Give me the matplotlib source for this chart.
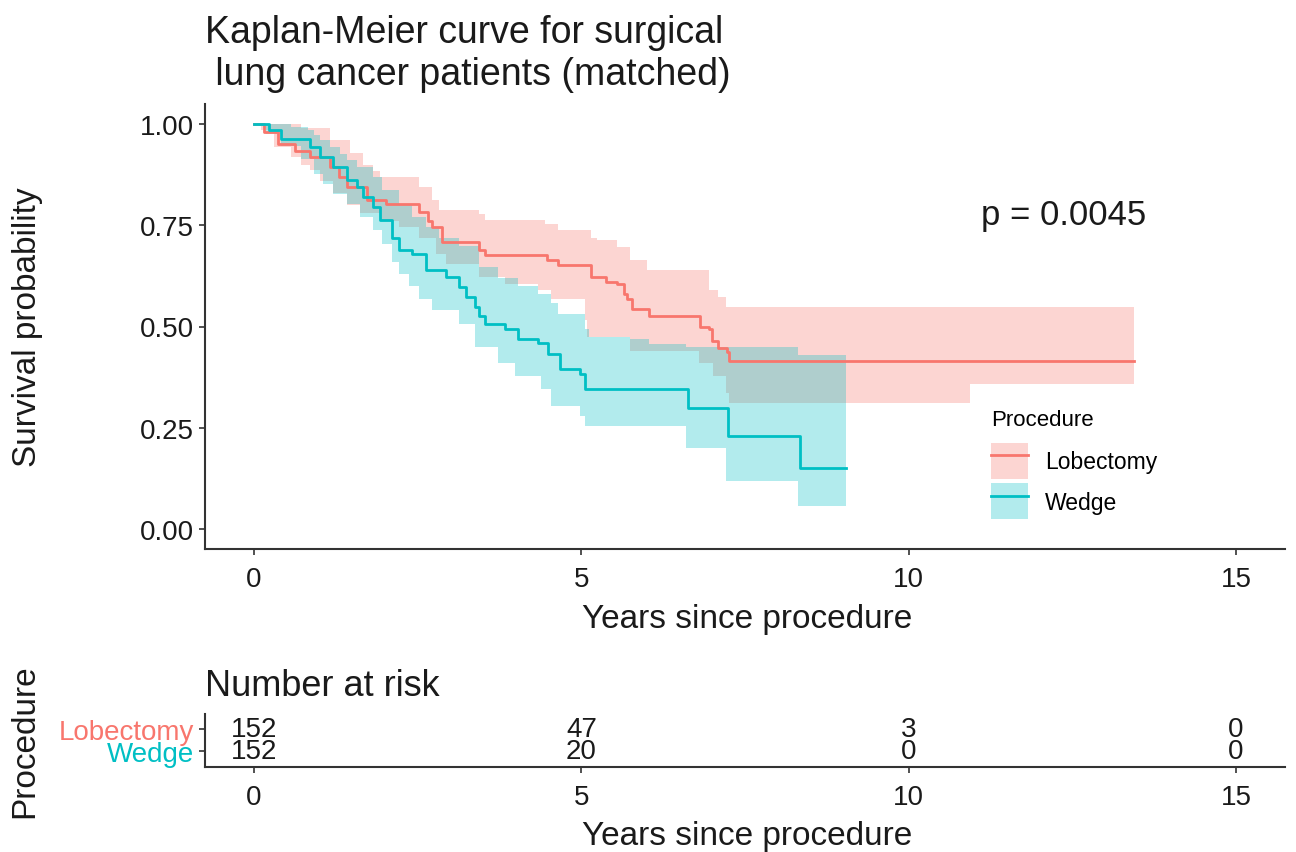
import numpy as np
import matplotlib
matplotlib.use('Agg')
import matplotlib.pyplot as plt
from matplotlib.patches import Patch
from matplotlib.lines import Line2D

plt.rcParams['font.family'] = ['Liberation Sans', 'DejaVu Sans']

# Kaplan-Meier estimates (years, survival)
lob_time = [0, 0.15, 0.36, 0.63, 0.86, 1.16, 1.30, 1.42, 1.72, 2.02, 2.52, 2.65, 2.72, 2.87,
            3.43, 3.53, 4.47, 4.64, 5.14, 5.38, 5.54, 5.65, 5.70, 5.77, 6.04, 6.82, 6.95,
            7.00, 7.08, 7.23, 7.25, 13.44]
lob_surv = [1.0, 0.98, 0.95, 0.935, 0.92, 0.894, 0.87, 0.845, 0.813, 0.803, 0.783, 0.76, 0.746,
            0.709, 0.69, 0.677, 0.665, 0.653, 0.623, 0.611, 0.606, 0.581, 0.567, 0.544, 0.525,
            0.50, 0.493, 0.463, 0.446, 0.438, 0.414, 0.414]
lob_up_time = [0, 0.71, 1.16, 1.47, 1.66, 1.81, 1.92, 2.52, 2.72, 2.82, 3.43, 3.53, 4.44, 4.64,
               5.14, 5.24, 5.54, 5.74, 6.00, 6.95, 7.08, 7.21, 13.44]
lob_up = [1.0, 0.99, 0.96, 0.93, 0.90, 0.885, 0.87, 0.845, 0.813, 0.788, 0.778, 0.763, 0.754,
          0.739, 0.72, 0.714, 0.697, 0.665, 0.64, 0.59, 0.574, 0.549, 0.549]
lob_lo_time = [0, 0.11, 0.30, 0.56, 0.71, 0.86, 1.01, 1.21, 1.42, 1.62, 1.92, 2.22, 2.52, 2.78,
               2.93, 3.43, 3.84, 4.34, 4.53, 5.05, 5.09, 5.74, 6.80, 7.01, 7.21, 7.25, 10.94, 13.44]
lob_lo = [1.0, 0.985, 0.943, 0.919, 0.90, 0.887, 0.86, 0.83, 0.80, 0.78, 0.76, 0.746, 0.72, 0.68,
          0.655, 0.623, 0.606, 0.59, 0.567, 0.517, 0.475, 0.44, 0.409, 0.377, 0.335, 0.31,
          0.357, 0.357]

wed_time = [0, 0.23, 0.41, 0.86, 1.01, 1.21, 1.42, 1.57, 1.66, 1.81, 1.92, 2.11, 2.22, 2.42,
            2.63, 2.93, 3.13, 3.23, 3.38, 3.43, 3.53, 3.84, 4.03, 4.34, 4.49, 4.68, 4.98, 5.05,
            6.63, 7.24, 8.34, 9.05]
wed_surv = [1.0, 0.985, 0.963, 0.943, 0.919, 0.894, 0.862, 0.845, 0.82, 0.796, 0.763, 0.72, 0.69,
            0.68, 0.64, 0.623, 0.598, 0.574, 0.549, 0.525, 0.505, 0.495, 0.468, 0.458, 0.433,
            0.394, 0.382, 0.345, 0.298, 0.229, 0.15, 0.15]
wed_up_time = [0, 0.56, 0.82, 0.91, 1.01, 1.16, 1.31, 1.42, 1.57, 1.81, 1.96, 2.22, 2.42, 2.63,
               2.82, 3.13, 3.43, 3.73, 4.03, 4.34, 4.53, 4.64, 5.05, 5.12, 5.74, 6.04, 6.60,
               8.31, 9.05]
wed_up = [1.0, 0.993, 0.985, 0.973, 0.96, 0.943, 0.926, 0.911, 0.894, 0.87, 0.837, 0.80, 0.77,
          0.745, 0.72, 0.70, 0.648, 0.62, 0.60, 0.581, 0.557, 0.532, 0.493, 0.475, 0.468, 0.456,
          0.45, 0.43, 0.43]
wed_lo_time = [0, 0.18, 0.41, 0.71, 0.91, 1.06, 1.21, 1.42, 1.62, 1.81, 1.96, 2.11, 2.22, 2.37,
               2.52, 2.72, 3.13, 3.38, 3.73, 3.99, 4.38, 4.53, 4.98, 5.05, 6.60, 7.21, 8.31, 9.05]
wed_lo = [1.0, 0.975, 0.945, 0.915, 0.877, 0.852, 0.828, 0.803, 0.77, 0.739, 0.704, 0.66, 0.63,
          0.60, 0.567, 0.542, 0.507, 0.45, 0.409, 0.377, 0.345, 0.303, 0.278, 0.254, 0.20,
          0.118, 0.057, 0.057]

# Number at risk table
risk_times = [0, 5, 10, 15]
risk_lob = [152, 47, 3, 0]
risk_wed = [152, 20, 0, 0]

groups = ['Lobectomy', 'Wedge']
colors = ['#F8766D', '#00BFC4']
p_text = 'p = 0.0045'

def step_at(t, v, grid):
    # value of a right-continuous step function on grid
    idx = np.searchsorted(np.asarray(t), grid, side='right') - 1
    return np.asarray(v)[np.clip(idx, 0, len(v) - 1)]

def draw_group(ax, t, s, ut, u, lt, l, color):
    grid = np.unique(np.concatenate([ut, lt]))
    ax.fill_between(grid, step_at(lt, l, grid), step_at(ut, u, grid),
                    step='post', color=color, alpha=0.3, linewidth=0)
    ax.step(t, s, where='post', color=color, linewidth=2.0)

fig = plt.figure(figsize=(12.96, 8.53), dpi=100)
W, H = 1296, 853
txt = '#1a1a1a'
spine_c = '#333333'

def style(ax):
    for side in ['top', 'right']:
        ax.spines[side].set_visible(False)
    for side in ['left', 'bottom']:
        ax.spines[side].set_color(spine_c)
        ax.spines[side].set_linewidth(1.5)
    ax.tick_params(colors=spine_c, labelcolor=txt, length=4.5, width=1.2, labelsize=20)

# Main KM plot
ax = fig.add_axes([205 / W, 1 - 550 / H, 1080 / W, 445 / H])
draw_group(ax, lob_time, lob_surv, lob_up_time, lob_up, lob_lo_time, lob_lo, colors[0])
draw_group(ax, wed_time, wed_surv, wed_up_time, wed_up, wed_lo_time, wed_lo, colors[1])
ax.set_xlim(-0.75, 15.75)
ax.set_ylim(-0.05, 1.05)
ax.set_xticks([0, 5, 10, 15])
ax.set_yticks([0, 0.25, 0.5, 0.75, 1.0])
ax.set_yticklabels(['0.00', '0.25', '0.50', '0.75', '1.00'])
style(ax)
ax.tick_params(axis='x', pad=8)
ax.set_xlabel('Years since procedure', fontsize=24, color=txt)
ax.set_ylabel('Survival probability', fontsize=24, color=txt)
ax.xaxis.set_label_coords(0.502, -0.122)
ax.yaxis.set_label_coords(-0.150, 0.5)
ax.text(11.1, 0.778, p_text, fontsize=25, color=txt, ha='left', va='center')

handles = [(Patch(facecolor=c, alpha=0.3, linewidth=0), Line2D([], [], color=c, linewidth=2.0))
           for c in colors]
leg = fig.legend(handles, groups, title='Procedure', loc='upper left',
                 bbox_to_anchor=(991 / W, 1 - 410 / H), frameon=False, fontsize=16.5,
                 title_fontsize=16, handlelength=1.6, handleheight=2.05, labelspacing=0.2,
                 handletextpad=0.75, borderpad=0, borderaxespad=0)
leg._legend_box.align = 'left'
leg._legend_box.sep = 9

fig.text(205 / W, 1 - 15 / H, 'Kaplan-Meier curve for surgical\n lung cancer patients (matched)',
         fontsize=27, color=txt, ha='left', va='top', linespacing=1.2)

# Risk table
rax = fig.add_axes([205 / W, 1 - 768 / H, 1080 / W, 53 / H])
rax.set_xlim(-0.75, 15.75)
rax.set_ylim(0.27, 2.68)
for t, a, b in zip(risk_times, risk_lob, risk_wed):
    rax.text(t, 2, str(a), ha='center', va='center', fontsize=20, color=txt)
    rax.text(t, 1, str(b), ha='center', va='center', fontsize=20, color=txt)
rax.set_xticks([0, 5, 10, 15])
rax.set_yticks([2, 1])
rax.set_yticklabels(groups)
style(rax)
rax.tick_params(axis='y', labelsize=20, pad=3)
for lab, c in zip(rax.get_yticklabels(), colors):
    lab.set_color(c)
rax.tick_params(axis='x', pad=8)
rax.set_xlabel('Years since procedure', fontsize=24, color=txt)
rax.xaxis.set_label_coords(0.502, -1.0)
rax.set_ylabel('Procedure', fontsize=24, color=txt)
rax.yaxis.set_label_coords(-0.153, 0.5)
fig.text(205 / W, 1 - 696 / H, 'Number at risk', fontsize=26, color=txt, ha='left', va='baseline')

plt.savefig('out.png', dpi=100)
